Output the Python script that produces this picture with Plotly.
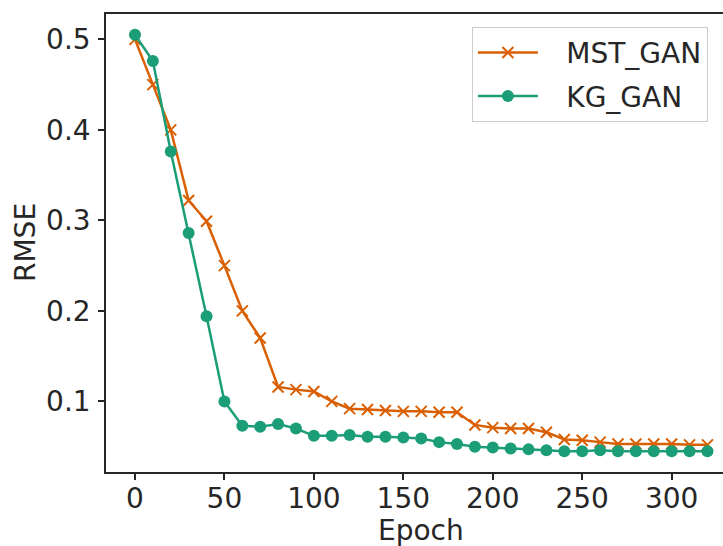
### IMPORTS ###
import plotly.graph_objects as go


### DATA ###
epochs = [0, 10, 20, 30, 40, 50, 60, 70, 80, 90, 100, 110, 120, 130, 140, 150, 160,
          170, 180, 190, 200, 210, 220, 230, 240, 250, 260, 270, 280, 290, 300, 310, 320]

mst_gan = [0.500, 0.450, 0.400, 0.322, 0.299, 0.250, 0.200, 0.170, 0.116, 0.113, 0.111,
           0.100, 0.092, 0.091, 0.090, 0.089, 0.089, 0.088, 0.088, 0.074, 0.071, 0.070,
           0.070, 0.066, 0.058, 0.057, 0.055, 0.053, 0.053, 0.053, 0.053, 0.052, 0.052]

kg_gan = [0.505, 0.476, 0.376, 0.286, 0.194, 0.100, 0.073, 0.072, 0.075, 0.070, 0.062,
          0.062, 0.063, 0.061, 0.061, 0.060, 0.059, 0.055, 0.053, 0.050, 0.049, 0.048,
          0.047, 0.046, 0.045, 0.045, 0.046, 0.045, 0.045, 0.045, 0.045, 0.045, 0.045]

x_ticks = [0, 50, 100, 150, 200, 250, 300]
y_ticks = [0.1, 0.2, 0.3, 0.4, 0.5]

ORANGE = '#d95f02'
GREEN = '#1b9e77'
INK = '#262626'
FONT = 'DejaVu Sans'


### DATA VISUALIZATION ###
def plot_rmse(fontsize: int = 28) -> go.Figure:
    fig = go.Figure()

    # leading spaces widen the gap between legend symbol and text
    pad = '\u00a0\u00a0\u2009'
    fig.add_trace(go.Scatter(
        x=epochs, y=mst_gan, name=pad + 'MST_GAN', mode='lines+markers',
        line=dict(color=ORANGE, width=2.5),
        marker=dict(symbol='x-thin', size=11, line=dict(color=ORANGE, width=2)),
        legendgroup='a'
    ))
    fig.add_trace(go.Scatter(
        x=epochs, y=kg_gan, name=pad + 'KG_GAN', mode='lines+markers',
        line=dict(color=GREEN, width=2.5),
        marker=dict(symbol='circle', size=12, color=GREEN),
        legendgroup='b'
    ))

    fig.update_layout(
        width=723, height=546,
        margin=dict(l=106, r=0, t=14, b=74, autoexpand=False),
        plot_bgcolor='white', paper_bgcolor='white',
        font=dict(family=FONT, size=fontsize, color=INK),
        showlegend=True,
        legend=dict(
            x=0.593, y=0.972, xanchor='left', yanchor='top',
            bgcolor='rgba(255,255,255,0.8)', bordercolor='#cccccc', borderwidth=1,
            font=dict(size=fontsize), itemwidth=60, tracegroupgap=4,
            traceorder='grouped'
        ),
        annotations=[
            # axis runs past the right edge, so its centre sits right of the visible one
            dict(text='Epoch', xref='paper', yref='paper', x=0.5, y=0,
                 xanchor='center', yanchor='middle', yshift=-58, xshift=6,
                 showarrow=False, font=dict(size=fontsize)),
            dict(text='RMSE', xref='paper', yref='paper', x=0, y=0.5,
                 xanchor='center', yanchor='middle', xshift=-81, textangle=-90,
                 showarrow=False, font=dict(size=fontsize)),
        ],
    )

    fig.update_xaxes(
        range=[-16.2, 328.7], tickvals=x_ticks, ticks='outside', ticklen=6, tickwidth=1.5,
        tickcolor=INK, showline=True, linecolor=INK, linewidth=1.5, mirror=True,
        showgrid=False, zeroline=False, automargin=False, ticklabelstandoff=-5
    )
    fig.update_yaxes(
        range=[0.022, 0.528], tickvals=y_ticks, ticks='outside', ticklen=6, tickwidth=1.5,
        tickcolor=INK, showline=True, linecolor=INK, linewidth=1.5, mirror=False,
        showgrid=False, zeroline=False, automargin=False, ticklabelstandoff=2
    )
    return fig


fig = plot_rmse()
# drop the browser's default body margin so the figure sits at the page corner
fig.write_html("out.html", config={'displayModeBar': False},
               post_script="document.body.style.margin='0px';")
